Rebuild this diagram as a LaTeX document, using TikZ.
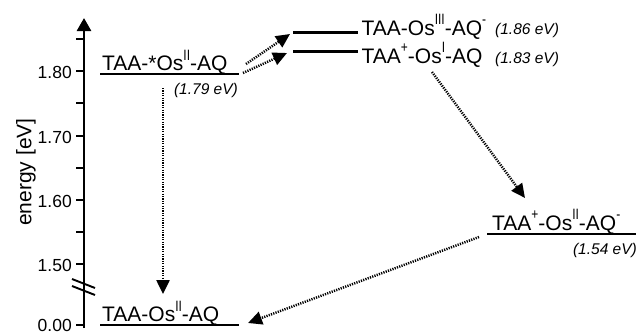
\documentclass[tikz,border=0pt]{standalone}
\usepackage{fontspec}
\setmainfont{Liberation Sans}
\usetikzlibrary{arrows.meta}
% raised oxidation-state / charge index
\newcommand\supidx[1]{\raisebox{0.48em}{\scalebox{1}[1.25]{\fontsize{12}{12}\selectfont #1}}}
\begin{document}
\begin{tikzpicture}[x=1pt,y=-1pt,
  axisline/.style={line width=2.7pt},
  tickmark/.style={line width=2.3pt},
  levelline/.style={line width=2.5pt},
  transfer/.style={line width=2.5pt, dash pattern=on 1.2pt off 1.2pt,
    -{Triangle[length=14pt,width=13pt]}},
  lab/.style={font=\fontsize{21}{21}\selectfont, inner sep=0pt},
  eval/.style={font=\fontsize{15.5}{15.5}\selectfont\itshape, inner sep=0pt},
  ticklab/.style={font=\fontsize{17.5}{17.5}\selectfont, inner sep=0pt, anchor=east}]
\useasboundingbox (0,0) rectangle (639,335);

% energy axis
\coordinate (ax-bot) at (84,328);
\coordinate (ax-top) at (84,18);
\draw[axisline, -{Triangle[length=13pt,width=14pt]}] (ax-bot) -- (ax-top);
\foreach \yy in {39,71,103,136,168,200,232,264,325}
  \draw[tickmark] (76,\yy) -- (84,\yy);
\node[ticklab] (t180) at (72,72) {1.80};
\node[ticklab] (t170) at (72,137) {1.70};
\node[ticklab] (t160) at (72,201) {1.60};
\node[ticklab] (t150) at (72,265) {1.50};
\node[ticklab] (t000) at (72,325.5) {0.00};
% axis break
\draw[line width=1.9pt] (72,279) -- (95,288);
\draw[line width=1.9pt] (72,286) -- (95,295);
\node[rotate=90, font=\fontsize{21}{21}\selectfont] (axlab) at (26,172) {energy [eV]};

% excited state
\coordinate (exc-l) at (100,74);
\coordinate (exc-r) at (239,74);
\draw[levelline] (exc-l) -- (exc-r);
\node[lab, anchor=base west] (exc) at (102,70.5) {TAA-*Os\supidx{II}-AQ};
\node[eval, anchor=base east] (exc-e) at (238,94) {(1.79 eV)};

% Os(III) / AQ(-) state
\coordinate (osa-l) at (293,32.7);
\coordinate (osa-r) at (358,32.7);
\draw[levelline] (osa-l) -- (osa-r);
\node[lab, anchor=base west] (osa) at (361.5,35) {TAA-Os\supidx{III}-AQ\supidx{-}};
\node[eval, anchor=base west] (osa-e) at (495,34) {(1.86 eV)};

% TAA(+) / Os(I) state
\coordinate (osb-l) at (293,51.7);
\coordinate (osb-r) at (358,51.7);
\draw[levelline] (osb-l) -- (osb-r);
\node[lab, anchor=base west] (osb) at (361.5,63) {TAA\supidx{+}-Os\supidx{I}-AQ};
\node[eval, anchor=base west] (osb-e) at (495,63) {(1.83 eV)};

% charge-separated state
\coordinate (cs-l) at (487,234);
\coordinate (cs-r) at (636,234);
\draw[levelline] (cs-l) -- (cs-r);
\node[lab, anchor=base west] (cs) at (492,230) {TAA\supidx{+}-Os\supidx{II}-AQ\supidx{-}};
\node[eval, anchor=base east] (cs-e) at (637,254) {(1.54 eV)};

% ground state
\coordinate (gs-l) at (100,325);
\coordinate (gs-r) at (239,325);
\draw[levelline] (gs-l) -- (gs-r);
\node[lab, anchor=base west] (gs) at (102,321.5) {TAA-Os\supidx{II}-AQ};

% transfer steps
\coordinate (exc-o1) at (246,64);
\coordinate (exc-o2) at (243,73);
\coordinate (exc-o3) at (163,88);
\coordinate (osa-in) at (290,34);
\coordinate (osb-in) at (287,53);
\coordinate (osb-o) at (432,72);
\coordinate (cs-in) at (525,198);
\coordinate (cs-o) at (479,237);
\coordinate (gs-in1) at (163,294);
\coordinate (gs-in2) at (248,323);
\draw[transfer] (exc-o1) -- (osa-in);
\draw[transfer] (exc-o2) -- (osb-in);
\draw[transfer] (exc-o3) -- (gs-in1);
\draw[transfer] (osb-o) -- (cs-in);
\draw[transfer] (cs-o) -- (gs-in2);
\end{tikzpicture}
\end{document}
